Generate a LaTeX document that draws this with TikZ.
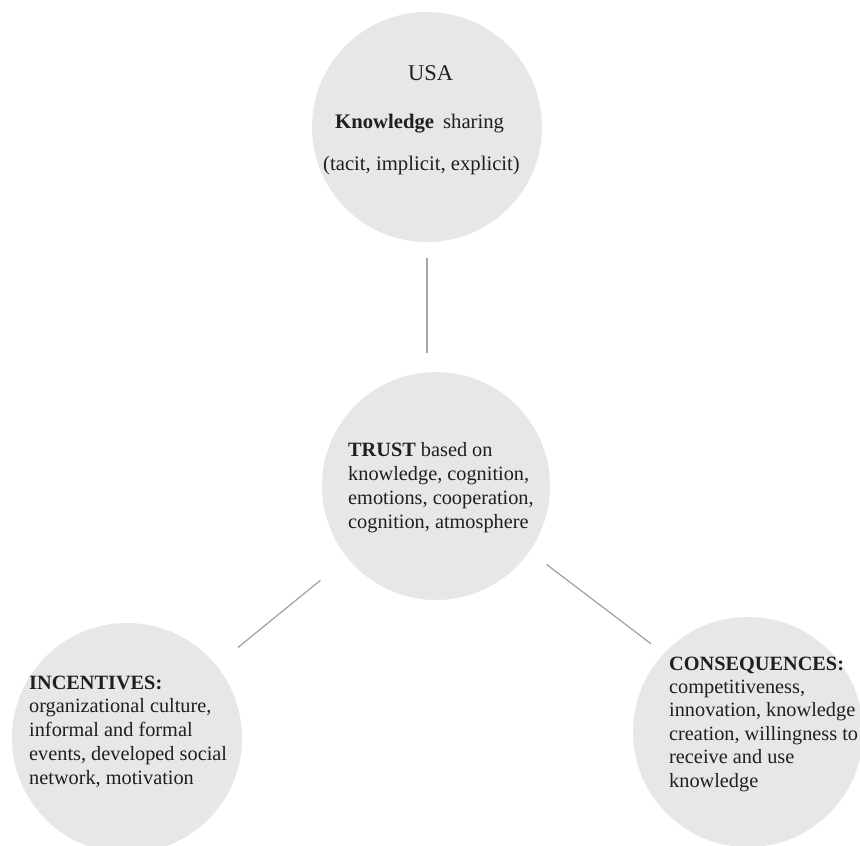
\documentclass[tikz,border=0pt]{standalone}
\usepackage{fontspec}
\setmainfont{Liberation Serif}
\definecolor{discc}{HTML}{E8E7E7}
\definecolor{linkc}{HTML}{A6A6A6}
\definecolor{ink}{HTML}{1F1F1F}
\begin{document}
\begin{tikzpicture}[x=1pt,y=-1pt,
  disc/.style={circle, fill=discc, draw=none, inner sep=0pt, minimum size=#1},
  link/.style={draw=linkc, line width=1.3pt},
  txt/.style={anchor=base west, inner sep=0pt, text=ink, font=\fontsize{20.3}{24}\selectfont}]
\useasboundingbox (0,0) rectangle (860,846);
\fill[white] (0,0) rectangle (860,846);
% discs
\node[disc=230pt] (usa) at (427,127) {};
\node[disc=228pt] (trust) at (436,486) {};
\node[disc=230pt] (inc) at (127,738) {};
\node[disc=230pt] (cons) at (748,732) {};
% connectors
\draw[link, shorten <=16pt, shorten >=19pt] (usa.south) -- (usa.south |- trust.north);
\draw[link, shorten <=35pt, shorten >=28pt] (trust) -- (inc);
\draw[link, shorten <=21.4pt, shorten >=15.9pt] (trust.-35.7) -- (cons.137.2);
% texts
\node[txt, font=\fontsize{22.5}{26}\selectfont] (usat) at (408,80) {USA};
\node[txt, font=\fontsize{20.7}{24}\selectfont] (kst) at (335,128) {\textbf{Knowledge}\hspace{9pt}sharing};
\node[txt, font=\fontsize{20.7}{24}\selectfont] (tie) at (323,170) {(tacit, implicit, explicit)};
\node[txt] (trt) at (348,456) {\vtop{\hbox{\textbf{TRUST} based on}\hbox{knowledge, cognition,}\hbox{emotions, cooperation,}\hbox{cognition, atmosphere}}};
\node[txt, font=\fontsize{20.3}{23.8}\selectfont] (inct) at (29,689) {\vtop{\hbox{\textbf{INCENTIVES:}}\hbox{organizational culture,}\hbox{informal and formal}\hbox{events, developed social}\hbox{network, motivation}}};
\node[txt, font=\fontsize{20.3}{23.4}\selectfont] (const) at (669,670) {\vtop{\hbox{\textbf{CONSEQUENCES:}}\hbox{competitiveness,}\hbox{innovation, knowledge}\hbox{creation, willingness to}\hbox{receive and use}\hbox{knowledge}}};
\end{tikzpicture}
\end{document}
